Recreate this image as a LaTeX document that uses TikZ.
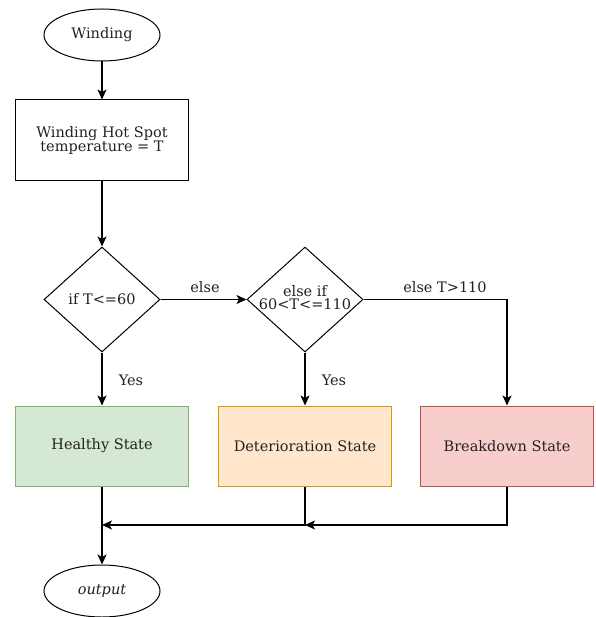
\documentclass[tikz,border=0pt]{standalone}
\usepackage{fontspec}
\setmainfont{DejaVu Serif}
\usetikzlibrary{shapes.geometric,arrows.meta}
\definecolor{txt}{HTML}{222222}
\definecolor{gfill}{HTML}{D5E8D4}\definecolor{gline}{HTML}{82B366}
\definecolor{ofill}{HTML}{FFE6CC}\definecolor{oline}{HTML}{D79B00}
\definecolor{rfill}{HTML}{F8CECC}\definecolor{rline}{HTML}{B85450}
\begin{document}
\begin{tikzpicture}[x=1pt,y=-1pt,
  every node/.style={font=\fontsize{14.5}{17}\selectfont, text=txt},
  term/.style={draw, ellipse, line width=1pt, minimum width=116pt, minimum height=52pt, inner sep=0pt},
  procbox/.style={draw, rectangle, line width=1pt, minimum width=173pt, minimum height=81pt, align=center, inner sep=0pt},
  decide/.style={draw, diamond, line width=1pt, minimum width=116pt, minimum height=105pt, inner sep=0pt},
  statebox/.style={draw, rectangle, line width=1pt, minimum width=173pt, minimum height=80pt, inner sep=0pt},
  conn/.style={line width=1.2pt, -{Stealth[length=10pt,width=9pt,inset=2.5pt]}},
  lbl/.style={inner sep=0pt}
]
\useasboundingbox (0,0) rectangle (595,617);
\node[term] (win) at (102,35) {Winding};
\node[procbox] (hot) at (102,140.5) {Winding Hot Spot\\[-3pt]temperature = T};
\node[decide] (d1) at (102,299.5) {\makebox[0pt]{if T<=60}};
\node[decide] (d2) at (305,299.5) {\makebox[0pt]{\begin{tabular}{@{}c@{}}else if\\[-4pt]60<T<=110\end{tabular}}};
\node[statebox, fill=gfill, draw=gline] (hs) at (102,446) {Healthy State};
\node[statebox, fill=ofill, draw=oline] (ds) at (305,446) {Deterioration State};
\node[statebox, fill=rfill, draw=rline] (bs) at (507,446) {Breakdown State};
\node[term] (out) at (102,591) {\itshape output};
\coordinate (j1) at (102,525);
\coordinate (j2) at (305,525);
\draw[conn] (win) -- (hot);
\draw[conn] (hot) -- (d1);
\draw[conn] (d1) -- (d2);
\draw[conn] (d1) -- (hs);
\draw[conn] (d2) -- (ds);
\draw[conn] (d2.east) -| (bs.north);
\draw[conn] (hs) -- (out);
\draw[conn] (ds.south) |- (j1);
\draw[conn] (bs.south) |- (j2);
\node[lbl] (l1) at (205,287) {else};
\node[lbl] (l2) at (445,287) {else T>110};
\node[lbl] (l3) at (131,380) {Yes};
\node[lbl] (l4) at (334,380) {Yes};
\end{tikzpicture}
\end{document}
